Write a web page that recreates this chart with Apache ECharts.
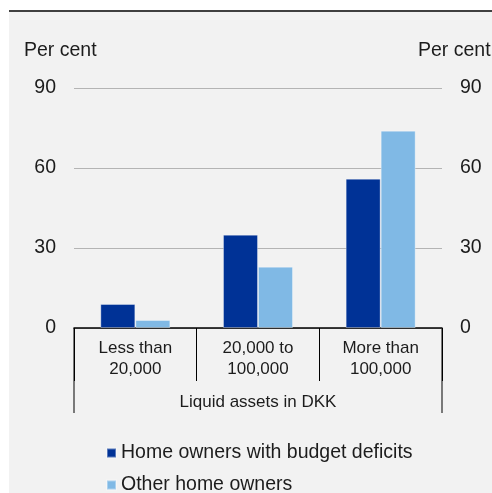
<!DOCTYPE html>
<html>
<head>
<meta charset="utf-8">
<style>
  html, body { margin: 0; padding: 0; background: #ffffff; }
  #chart { width: 492px; height: 493px; }
</style>
<script src="https://cdn.jsdelivr.net/npm/echarts@6/dist/echarts.min.js"></script>
</head>
<body>
<div id="chart"></div>
<script>
// Share of home owners by liquid assets, per cent
const categories = ['Less than\n20,000', '20,000 to\n100,000', 'More than\n100,000'];
const deficitOwners = [9, 35, 56];
const otherOwners = [3, 23, 74];
const seriesNames = ['Home owners with budget deficits', 'Other home owners'];
const yTicks = { min: 0, max: 90, interval: 30 };
const unitLabel = 'Per cent';
const xAxisTitle = 'Liquid assets in DKK';

const FONT = '"Liberation Sans", Arial, sans-serif';
const TEXT = '#1c1c1c';
const DARK = '#003296';
const LIGHT = '#80b9e5';

// plot box
const G = { left: 74, right: 50, top: 88, bottom: 165 };
const W = 492, H = 493;
const plotL = G.left, plotR = W - G.right, plotB = H - G.bottom;

const chart = echarts.init(document.getElementById('chart'), null, { renderer: 'canvas' });

const yAxisBase = {
  type: 'value',
  min: yTicks.min, max: yTicks.max, interval: yTicks.interval,
  axisLine: { show: false },
  axisTick: { show: false },
  axisLabel: { color: TEXT, fontFamily: FONT, fontSize: 19.5, margin: 18 }
};

chart.setOption({
  backgroundColor: '#ffffff',
  animation: false,
  grid: G,
  xAxis: {
    type: 'category',
    data: categories,
    axisLine: { show: true, lineStyle: { color: '#000000', width: 1.5 } },
    axisTick: { show: true, length: 53, lineStyle: { color: '#000000', width: 1 } },
    axisLabel: { color: TEXT, fontFamily: FONT, fontSize: 17, lineHeight: 21, margin: 10, interval: 0 },
    splitLine: { show: false }
  },
  yAxis: [
    Object.assign({}, yAxisBase, {
      position: 'left',
      splitLine: { show: true, lineStyle: { color: '#b4b4b4', width: 1 } }
    }),
    Object.assign({}, yAxisBase, {
      position: 'right',
      splitLine: { show: false }
    })
  ],
  legend: {
    orient: 'vertical',
    left: 106,
    top: 442,
    height: 90,
    padding: 0,
    itemWidth: 9,
    itemHeight: 9,
    itemGap: 10,
    icon: 'rect',
    textStyle: { color: TEXT, fontFamily: FONT, fontSize: 19.5, lineHeight: 22, padding: [0, 0, 0, 0] },
    data: seriesNames
  },
  series: [
    {
      name: seriesNames[0],
      type: 'bar',
      yAxisIndex: 0,
      data: deficitOwners,
      barWidth: 35,
      barGap: '0%',
      itemStyle: { color: DARK, borderColor: 'rgba(255,255,255,0.35)', borderWidth: 1 }
    },
    {
      name: seriesNames[1],
      type: 'bar',
      yAxisIndex: 0,
      data: otherOwners,
      barWidth: 35,
      barGap: '0%',
      itemStyle: { color: LIGHT, borderColor: 'rgba(255,255,255,0.35)', borderWidth: 1 }
    }
  ],
  graphic: [
    // panel background and top rule
    { type: 'rect', z: -10, silent: true,
      shape: { x: 9, y: 12, width: W - 9, height: H - 12 },
      style: { fill: '#f2f2f2' } },
    { type: 'line', z: -5, silent: true,
      shape: { x1: 9, y1: 11, x2: W, y2: 11 },
      style: { stroke: '#000000', lineWidth: 1.5 } },
    // outer brackets of the category axis
    { type: 'line', silent: true,
      shape: { x1: plotL, y1: plotB, x2: plotL, y2: plotB + 85 },
      style: { stroke: '#000000', lineWidth: 1 } },
    { type: 'line', silent: true,
      shape: { x1: plotR, y1: plotB, x2: plotR, y2: plotB + 85 },
      style: { stroke: '#000000', lineWidth: 1 } },
    // axis title
    { type: 'text', silent: true,
      style: { text: xAxisTitle, x: (plotL + plotR) / 2, y: 402,
               textAlign: 'center', textVerticalAlign: 'middle',
               fill: TEXT, font: '17px ' + FONT } },
    // unit labels
    { type: 'text', silent: true,
      style: { text: unitLabel, x: 24, y: 51, textAlign: 'left', textVerticalAlign: 'middle',
               fill: TEXT, font: '19.5px ' + FONT } },
    { type: 'text', silent: true,
      style: { text: unitLabel, x: 418, y: 51, textAlign: 'left', textVerticalAlign: 'middle',
               fill: TEXT, font: '19.5px ' + FONT } }
  ]
});
</script>
</body>
</html>
